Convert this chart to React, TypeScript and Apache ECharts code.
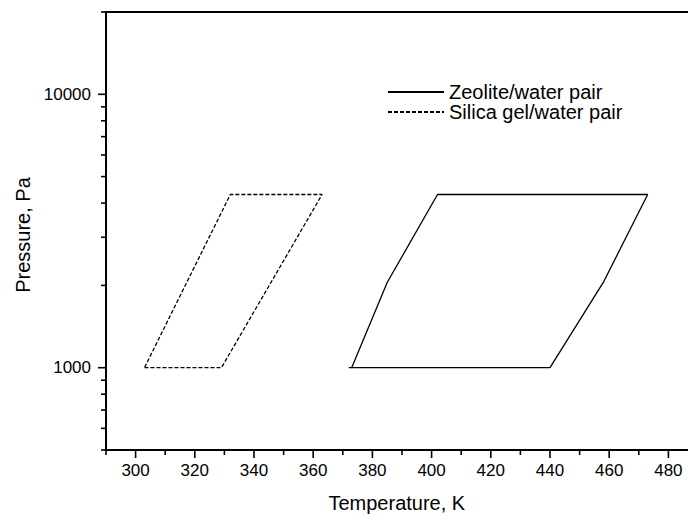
import React, { useEffect, useRef } from "react";
import * as echarts from "echarts";

// Axis ranges
const T_MIN = 290;
const T_MAX = 500;
const P_MIN = 500;
const P_MAX = 20000;

// Zeolite/water cycle (temperature K, pressure Pa)
const zeoliteT = [372, 440, 458, 473, 402, 385, 373];
const zeoliteP = [1000, 1000, 2050, 4300, 4300, 2050, 1000];

// Silica gel/water cycle
const silicaT = [303, 329, 363, 332, 303];
const silicaP = [1000, 1000, 4300, 4300, 1000];

// Tick positions
const tempMajorTicks = [300, 320, 340, 360, 380, 400, 420, 440, 460, 480];
const tempMinorTicks = [290, 310, 330, 350, 370, 390, 410, 430, 450, 470, 490];
const tempLabels = [300, 320, 340, 360, 380, 400, 420, 440, 460, 480];
const pressureMajorTicks = [1000, 10000];
const pressureMinorTicks = [500, 600, 700, 800, 900, 2000, 3000, 4000, 5000, 6000, 7000, 8000, 9000, 20000];
const pressureLabels = [1000, 10000];

const FONT = "'Liberation Sans', Arial, sans-serif";
const MAJOR_LEN = 8;
const MINOR_LEN = 5;

export default function App() {
  const ref = useRef<HTMLDivElement>(null);

  useEffect(() => {
    if (!ref.current) return;
    const chart = echarts.init(ref.current, null, { renderer: "svg" });

    const pairs = (xs: number[], ys: number[]) => xs.map((x, i) => [x, ys[i]]);

    const xTickData = [
      ...tempMajorTicks.map((v) => [v, P_MIN, MAJOR_LEN]),
      ...tempMinorTicks.map((v) => [v, P_MIN, MINOR_LEN]),
    ];
    const yTickData = [
      ...pressureMajorTicks.map((v) => [T_MIN, v, MAJOR_LEN]),
      ...pressureMinorTicks.map((v) => [T_MIN, v, MINOR_LEN]),
    ];

    chart.setOption({
      animation: false,
      backgroundColor: "#ffffff",
      textStyle: { fontFamily: FONT },
      grid: {
        left: 106,
        top: 12,
        width: 621.6,
        height: 438,
        containLabel: false,
        outerBoundsMode: "none",
      },
      legend: {
        data: ["Zeolite/water pair", "Silica gel/water pair"],
        orient: "vertical",
        left: 382,
        top: 77,
        itemWidth: 56,
        itemHeight: 14,
        itemGap: 0,
        selectedMode: false,
        itemStyle: { opacity: 0 },
        textStyle: { fontFamily: FONT, fontSize: 20, lineHeight: 19, color: "#000" },
      },
      xAxis: [
        {
          type: "value",
          min: T_MIN,
          max: T_MAX,
          interval: 10,
          position: "bottom",
          name: "Temperature, K",
          nameLocation: "middle",
          nameGap: 43,
          nameTextStyle: {
            fontFamily: FONT,
            fontSize: 20,
            color: "#000",
            padding: [0, 40, 0, 0],
          },
          axisLine: { show: true, onZero: false, lineStyle: { color: "#000", width: 2 } },
          axisTick: { show: false },
          splitLine: { show: false },
          axisLabel: {
            fontFamily: FONT,
            fontSize: 17,
            color: "#000",
            margin: 12,
            formatter: (v: number) => (tempLabels.includes(Math.round(v)) ? String(Math.round(v)) : ""),
          },
        },
        {
          type: "value",
          min: T_MIN,
          max: T_MAX,
          position: "top",
          axisLine: { show: true, onZero: false, lineStyle: { color: "#000", width: 2 } },
          axisTick: { show: false },
          axisLabel: { show: false },
          splitLine: { show: false },
        },
      ],
      yAxis: {
        type: "log",
        logBase: 10,
        min: P_MIN,
        max: P_MAX,
        name: "Pressure, Pa",
        nameLocation: "middle",
        nameGap: 71,
        nameTextStyle: { fontFamily: FONT, fontSize: 20, color: "#000", padding: [0, 8, 0, 0] },
        axisLine: { show: true, onZero: false, lineStyle: { color: "#000", width: 2 } },
        axisTick: { show: false },
        splitLine: { show: false },
        minorTick: { show: false },
        axisLabel: {
          fontFamily: FONT,
          fontSize: 17,
          color: "#000",
          margin: 15,
          showMinLabel: false,
          showMaxLabel: false,
          formatter: (v: number) => (pressureLabels.includes(Math.round(v)) ? String(Math.round(v)) : ""),
        },
      },
      series: [
        {
          name: "Zeolite/water pair",
          type: "line",
          data: pairs(zeoliteT, zeoliteP),
          symbol: "none",
          color: "#000",
          lineStyle: { color: "#000", width: 1.3, type: "solid" },
        },
        {
          name: "Silica gel/water pair",
          type: "line",
          data: pairs(silicaT, silicaP),
          symbol: "none",
          color: "#000",
          lineStyle: { color: "#000", width: 1.3, type: [4, 2] },
        },
        {
          name: "xTicks",
          type: "custom",
          silent: true,
          clip: false,
          data: xTickData,
          encode: { x: 0, y: 1 },
          renderItem: (_p: any, api: any) => {
            const pt = api.coord([api.value(0), api.value(1)]);
            const len = api.value(2);
            return {
              type: "line",
              shape: { x1: pt[0], y1: pt[1], x2: pt[0], y2: pt[1] + len },
              style: { stroke: "#000", lineWidth: 1.6 },
            };
          },
        },
        {
          name: "yTicks",
          type: "custom",
          silent: true,
          clip: false,
          data: yTickData,
          encode: { x: 0, y: 1 },
          renderItem: (_p: any, api: any) => {
            const pt = api.coord([api.value(0), api.value(1)]);
            const len = api.value(2);
            return {
              type: "line",
              shape: { x1: pt[0], y1: pt[1], x2: pt[0] - len, y2: pt[1] },
              style: { stroke: "#000", lineWidth: 1.6 },
            };
          },
        },
      ],
    });

    return () => chart.dispose();
  }, []);

  return (
    <div
      ref={ref}
      style={{ position: "fixed", left: 0, top: 0, width: 688, height: 516, background: "#fff" }}
    />
  );
}
